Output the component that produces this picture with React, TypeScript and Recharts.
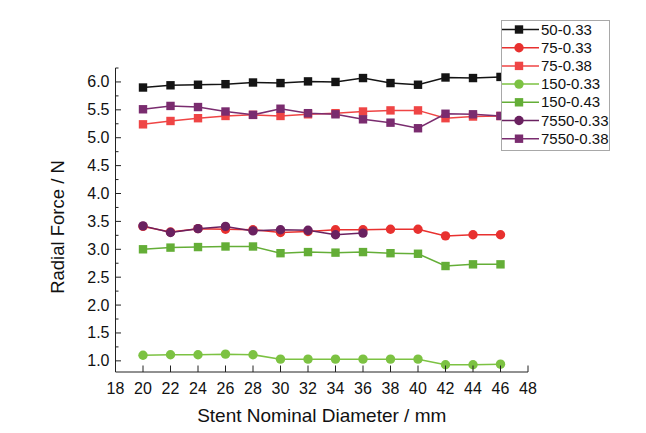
import { LineChart, Line, XAxis, YAxis } from "recharts";

const diameters = [20, 22, 24, 26, 28, 30, 32, 34, 36, 38, 40, 42, 44, 46];

const s50_033 = [5.9, 5.94, 5.95, 5.96, 5.99, 5.98, 6.01, 6.0, 6.07, 5.98, 5.95, 6.08, 6.07, 6.09];
const s75_033 = [3.41, 3.31, 3.37, 3.36, 3.35, 3.3, 3.32, 3.35, 3.35, 3.36, 3.36, 3.24, 3.26, 3.26];
const s75_038 = [5.24, 5.3, 5.35, 5.39, 5.41, 5.39, 5.42, 5.44, 5.47, 5.49, 5.49, 5.35, 5.38, 5.39];
const s150_033 = [1.1, 1.11, 1.11, 1.12, 1.11, 1.03, 1.03, 1.03, 1.03, 1.03, 1.03, 0.93, 0.93, 0.94];
const s150_043 = [3.0, 3.03, 3.04, 3.05, 3.05, 2.93, 2.95, 2.94, 2.95, 2.93, 2.92, 2.7, 2.73, 2.73];
const s7550_033 = [3.42, 3.3, 3.37, 3.41, 3.33, 3.35, 3.34, 3.26, 3.29];
const s7550_038 = [5.51, 5.57, 5.55, 5.47, 5.41, 5.52, 5.44, 5.42, 5.33, 5.27, 5.17, 5.43, 5.42, 5.39];

const xTicks = [18, 20, 22, 24, 26, 28, 30, 32, 34, 36, 38, 40, 42, 44, 46, 48];
const yTicks = [
  1.0, 1.25, 1.5, 1.75, 2.0, 2.25, 2.5, 2.75, 3.0, 3.25, 3.5, 3.75, 4.0, 4.25,
  4.5, 4.75, 5.0, 5.25, 5.5, 5.75, 6.0, 6.25,
];

type Series = { key: string; name: string; color: string; shape: "square" | "circle"; values: number[] };

const series: Series[] = [
  { key: "s50_033", name: "50-0.33", color: "#141414", shape: "square", values: s50_033 },
  { key: "s75_033", name: "75-0.33", color: "#e8312f", shape: "circle", values: s75_033 },
  { key: "s75_038", name: "75-0.38", color: "#ef4545", shape: "square", values: s75_038 },
  { key: "s150_033", name: "150-0.33", color: "#7cc242", shape: "circle", values: s150_033 },
  { key: "s150_043", name: "150-0.43", color: "#64ae37", shape: "square", values: s150_043 },
  { key: "s7550_033", name: "7550-0.33", color: "#6a2160", shape: "circle", values: s7550_033 },
  { key: "s7550_038", name: "7550-0.38", color: "#7a2c6f", shape: "square", values: s7550_038 },
];

const data = diameters.map((diameter, i) => {
  const row: Record<string, number | null> = { diameter };
  series.forEach((s) => {
    row[s.key] = i < s.values.length ? s.values[i] : null;
  });
  return row;
});

const FONT = "'Liberation Sans', Arial, sans-serif";

function marker(shape: "square" | "circle", color: string, cx: number, cy: number, key?: any) {
  if (shape === "square") {
    return <rect key={key} x={cx - 4.2} y={cy - 4.2} width={8.4} height={8.4} fill={color} />;
  }
  return <circle key={key} cx={cx} cy={cy} r={4.7} fill={color} />;
}

function XTick(props: any) {
  const { x, y, payload } = props;
  return (
    <g>
      <line x1={x} x2={x} y1={y} y2={y - 6.5} stroke="#222" strokeWidth={1} />
      <text x={x} y={y + 22} textAnchor="middle" fontSize={16} fill="#111" fontFamily={FONT}>
        {payload.value}
      </text>
    </g>
  );
}

function YTick(props: any) {
  const { x, y, payload } = props;
  const major = Math.abs(payload.value * 2 - Math.round(payload.value * 2)) < 1e-6;
  return (
    <g>
      <line x1={x} x2={x + (major ? 5.5 : 3)} y1={y} y2={y} stroke="#222" strokeWidth={1} />
      {major && (
        <text x={x - 6} y={y + 5.5} textAnchor="end" fontSize={16} fill="#111" fontFamily={FONT}>
          {payload.value.toFixed(1)}
        </text>
      )}
    </g>
  );
}

function LegendBox() {
  return (
    <svg
      width={109}
      height={131}
      style={{ position: "absolute", left: 493, top: 12, display: "block" }}
    >
      <rect x={0.5} y={0.5} width={108} height={130} fill="#fff" stroke="#a8a8a8" strokeWidth={1} />
      {series.map((s, i) => {
        const cy = 9.5 + i * 18.2;
        return (
          <g key={s.key}>
            <line x1={1} x2={38} y1={cy} y2={cy} stroke={s.color} strokeWidth={1.5} />
            {marker(s.shape, s.color, 18, cy)}
            <text x={40} y={cy + 5} fontSize={15} fill="#111" fontFamily={FONT}>
              {s.name}
            </text>
          </g>
        );
      })}
    </svg>
  );
}

export default function App() {
  return (
    <div style={{ position: "relative", width: 630, height: 417 }}>
      <LineChart
        width={630}
        height={417}
        data={data}
        margin={{ top: 60, right: 110, bottom: 0, left: 47.5 }}
      >
        <XAxis
          dataKey="diameter"
          type="number"
          domain={[18, 48]}
          ticks={xTicks}
          interval={0}
          height={53}
          stroke="#222"
          tickSize={0}
          tickMargin={0}
          tick={<XTick />}
          label={{
            content: (p: any) => {
              const vb = p.viewBox;
              return (
                <text x={vb.x + vb.width / 2} y={vb.y + 50} textAnchor="middle" fontSize={19} fill="#111" fontFamily={FONT}>
                  Stent Nominal Diameter / mm
                </text>
              );
            },
          }}
        />
        <YAxis
          type="number"
          domain={[0.8, 6.25]}
          ticks={yTicks}
          interval={0}
          width={60}
          stroke="#222"
          tickSize={0}
          tickMargin={0}
          tick={<YTick />}
          label={{
            content: () => (
              <text
                x={56}
                y={219}
                transform="rotate(-90 56 219)"
                textAnchor="middle"
                fontSize={18.5}
                fill="#111"
                fontFamily={FONT}
              >
                Radial Force / N
              </text>
            ),
          }}
        />
        {series.map((s) => (
          <Line
            key={s.key}
            dataKey={s.key}
            name={s.name}
            stroke={s.color}
            strokeWidth={1.5}
            isAnimationActive={false}
            dot={(p: any) =>
              p.value == null || p.cx == null ? <g key={p.index} /> : marker(s.shape, s.color, p.cx, p.cy, p.index)
            }
            activeDot={false}
          />
        ))}
      </LineChart>
      <LegendBox />
    </div>
  );
}
